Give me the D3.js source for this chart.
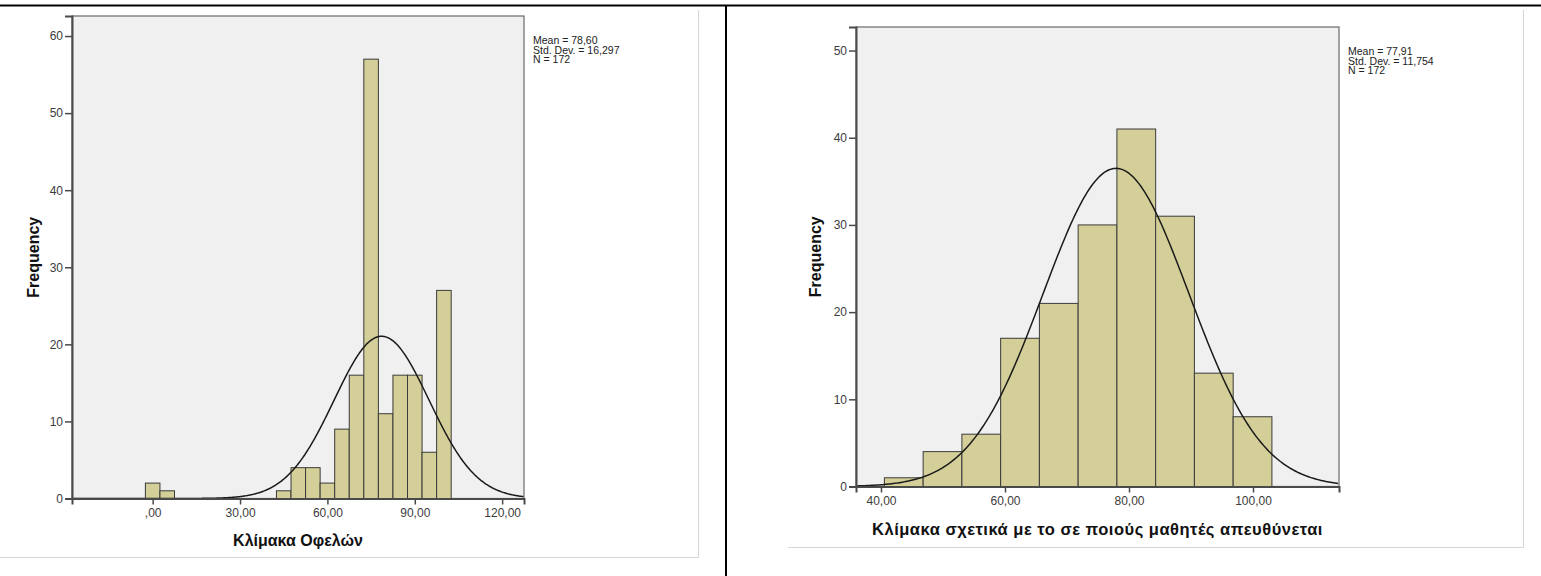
<!DOCTYPE html>
<html>
<head>
<meta charset="utf-8">
<script src="https://cdn.jsdelivr.net/npm/d3@7"></script>
<style>
  body { margin: 0; background: #fff; }
  text { font-family: "Liberation Sans", Arial, sans-serif; }
</style>
</head>
<body>
<div id="page"></div>
<script>
// histogram 1 - Κλίμακα Οφελών (bin lower edges, width 5)
const left_bins = [-2.5, 2.5, 42.5, 47.5, 52.5, 57.5, 62.5, 67.5, 72.5, 77.5, 82.5, 87.5, 92.5, 97.5];
const left_counts = [2, 1, 1, 4, 4, 2, 9, 16, 57, 11, 16, 16, 6, 27];
const left_bin_width = 5;
const left_mean = 78.60, left_sd = 16.297, left_n = 172;
const left_stats = ["Mean = 78,60", "Std. Dev. = 16,297", "N = 172"];
const left_x_ticks = [0, 30, 60, 90, 120];
const left_y_ticks = [0, 10, 20, 30, 40, 50, 60];

// histogram 2 - Κλίμακα σχετικά με το σε ποιούς μαθητές απευθύνεται (width 6.25)
const right_bins = [40.55, 46.8, 53.05, 59.3, 65.55, 71.8, 78.05, 84.3, 90.55, 96.8];
const right_counts = [1, 4, 6, 17, 21, 30, 41, 31, 13, 8];
const right_bin_width = 6.25;
const right_mean = 77.91, right_sd = 11.754, right_n = 172;
const right_stats = ["Mean = 77,91", "Std. Dev. = 11,754", "N = 172"];
const right_x_ticks = [40, 60, 80, 100];
const right_y_ticks = [0, 10, 20, 30, 40, 50];

const W = 1541, H = 576;
const BAR_FILL = "#d4cf98";

var svg = d3.select("#page")
  .append("svg")
    .attr("width", W)
    .attr("height", H);

// greek-style decimal comma, SPSS drops the leading zero
var fmt = function(v) {
  var s = d3.format(".2f")(v).replace(".", ",");
  return s.indexOf("0,") === 0 ? s.slice(1) : s;
};

// page furniture (table borders and chart frames)
svg.append("line")
  .attr("x1", 0).attr("x2", W).attr("y1", 5.5).attr("y2", 5.5)
  .attr("stroke", "#000").attr("stroke-width", 2);
svg.append("line")
  .attr("x1", 726).attr("x2", 726).attr("y1", 5).attr("y2", H)
  .attr("stroke", "#000").attr("stroke-width", 2);

svg.append("path")
  .attr("d", "M0,557.5H698.5V10")
  .attr("fill", "none").attr("stroke", "#d6d6d6").attr("stroke-width", 1);
svg.append("path")
  .attr("d", "M788,547.5H1523.5V10")
  .attr("fill", "none").attr("stroke", "#d6d6d6").attr("stroke-width", 1);

var create_hist = function(cfg) {
  var x = d3.scaleLinear().domain(cfg.xdom).range([cfg.left, cfg.right]);
  var y = d3.scaleLinear().domain([0, cfg.ytop]).range([cfg.bottom, cfg.top]);

  var g = svg.append("g");

  g.append("rect")
    .attr("x", cfg.left).attr("y", cfg.top)
    .attr("width", cfg.right - cfg.left)
    .attr("height", cfg.bottom - cfg.top)
    .attr("fill", "#f0f0f0")
    .attr("stroke", "#6a6a6a")
    .attr("stroke-width", 1.2);

  g.selectAll("rect.bar")
    .data(cfg.bins)
    .enter()
    .append("rect")
      .attr("class", "bar")
      .attr("x", function(d) { return x(d); })
      .attr("y", function(d, i) { return y(cfg.counts[i]); })
      .attr("width", function(d) { return x(d + cfg.binw) - x(d); })
      .attr("height", function(d, i) { return y(0) - y(cfg.counts[i]); })
      .attr("fill", BAR_FILL)
      .attr("stroke", "#3a3a3a")
      .attr("stroke-width", 1);

  // fitted normal curve from the stats shown in the legend
  var scale = cfg.n * cfg.binw / (cfg.sd * Math.sqrt(2 * Math.PI));
  var pts = d3.range(cfg.xdom[0], cfg.xdom[1] + 0.01, 0.25);
  g.append("path")
    .datum(pts)
    .attr("fill", "none")
    .attr("stroke", "#1a1a1a")
    .attr("stroke-width", 1.5)
    .attr("d", d3.line()
      .x(function(d) { return x(d); })
      .y(function(d) {
        var z = (d - cfg.mean) / cfg.sd;
        return y(scale * Math.exp(-0.5 * z * z));
      })
    );

  var yAxis = g.append("g")
    .attr("transform", "translate(" + cfg.left + ",0)")
    .call(d3.axisLeft(y).tickValues(cfg.yticks).tickSize(7).tickPadding(2));
  var xAxis = g.append("g")
    .attr("transform", "translate(0," + cfg.bottom + ")")
    .call(d3.axisBottom(x).tickValues(cfg.xticks).tickFormat(fmt).tickSize(6).tickPadding(4));

  [yAxis, xAxis].forEach(function(a) {
    a.select(".domain").attr("stroke", "#4a4a4a").attr("stroke-width", 2);
    a.selectAll(".tick line").attr("stroke", "#4a4a4a").attr("stroke-width", 1.5);
    a.selectAll(".tick text")
      .attr("fill", "#3c3c3c")
      .style("font-size", "12px")
      .style("font-family", "'Liberation Sans', Arial, sans-serif");
  });

  g.append("text")
    .attr("transform", "translate(" + cfg.ylabx + "," + ((cfg.top + cfg.bottom) / 2) + ") rotate(-90)")
    .attr("text-anchor", "middle")
    .attr("dy", "0.35em")
    .style("font-size", "16px")
    .style("font-weight", "bold")
    .attr("fill", "#111")
    .text("Frequency");

  g.append("text")
    .attr("x", (cfg.left + cfg.right) / 2)
    .attr("y", cfg.xlaby)
    .attr("text-anchor", "middle")
    .attr("dy", "0.35em")
    .style("font-size", cfg.xlabsize)
    .style("letter-spacing", cfg.xlabspace)
    .style("font-weight", "bold")
    .attr("fill", "#111")
    .text(cfg.xlabel);

  g.selectAll("text.stat")
    .data(cfg.stats)
    .enter()
    .append("text")
      .attr("class", "stat")
      .attr("x", cfg.right + 9)
      .attr("y", function(d, i) { return cfg.top + 28 + i * 9.5; })
      .style("font-size", "10.5px")
      .attr("fill", "#222")
      .text(function(d) { return d; });
};

create_hist({
  left: 72, right: 524, top: 16, bottom: 498.5,
  xdom: [-27.7, 127.5], ytop: 62.6,
  bins: left_bins, counts: left_counts, binw: left_bin_width,
  mean: left_mean, sd: left_sd, n: left_n,
  stats: left_stats, xticks: left_x_ticks, yticks: left_y_ticks,
  ylabx: 33, xlaby: 540, xlabsize: "16px", xlabspace: "0px",
  xlabel: "Κλίμακα Οφελών"
});

create_hist({
  left: 856, right: 1339, top: 27, bottom: 486.5,
  xdom: [35.97, 113.87], ytop: 52.7,
  bins: right_bins, counts: right_counts, binw: right_bin_width,
  mean: right_mean, sd: right_sd, n: right_n,
  stats: right_stats, xticks: right_x_ticks, yticks: right_y_ticks,
  ylabx: 815, xlaby: 529.5, xlabsize: "16.5px", xlabspace: "0.5px",
  xlabel: "Κλίμακα σχετικά με το σε ποιούς μαθητές απευθύνεται"
});
</script>
</body>
</html>
